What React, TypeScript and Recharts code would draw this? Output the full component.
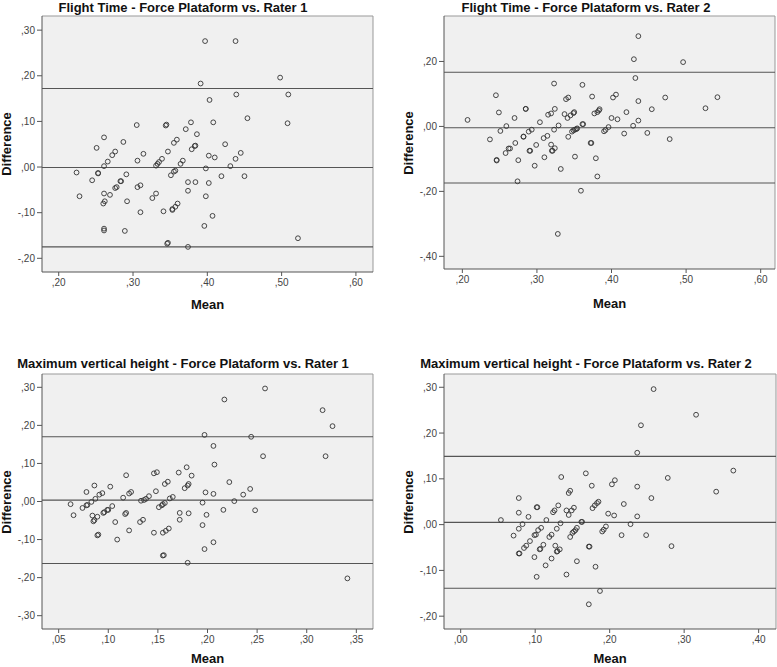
import {
  ScatterChart,
  Scatter,
  XAxis,
  YAxis,
  CartesianGrid,
  ReferenceLine,
} from "recharts";

// Flight time, force platform vs. rater 1
const FT1_MEAN = [
  0.224, 0.228, 0.245, 0.251, 0.253, 0.253, 0.261, 0.261, 0.261, 0.26,
  0.262, 0.261, 0.261, 0.266, 0.269, 0.272, 0.276, 0.276, 0.278, 0.283,
  0.284, 0.287, 0.291, 0.292, 0.289, 0.305, 0.306, 0.306, 0.31, 0.31,
  0.314, 0.326, 0.331, 0.331, 0.333, 0.335, 0.339, 0.341, 0.344, 0.345,
  0.347, 0.347, 0.346, 0.351, 0.353, 0.353, 0.355, 0.355, 0.357, 0.359,
  0.357, 0.36, 0.364, 0.367, 0.371, 0.374, 0.374, 0.374, 0.378, 0.379,
  0.383, 0.384, 0.384, 0.386, 0.391, 0.397, 0.396, 0.398, 0.398, 0.402,
  0.402, 0.403, 0.407, 0.408, 0.41, 0.419, 0.424, 0.431, 0.438, 0.438,
  0.439, 0.445, 0.45, 0.454, 0.498, 0.509, 0.508, 0.522,
];
const FT1_DIFF = [
  -0.012, -0.064, -0.029, 0.042, -0.013, -0.014, 0.065, 0.002, -0.058, -0.08,
  -0.075, -0.135, -0.139, 0.012, -0.061, 0.026, 0.034, -0.046, -0.044, -0.031,
  -0.031, 0.055, -0.016, -0.075, -0.14, 0.092, 0.014, -0.044, -0.04, -0.099,
  0.029, -0.068, -0.058, 0.003, 0.007, 0.011, 0.018, -0.097, 0.091, 0.093,
  0.034, -0.166, -0.168, -0.018, -0.094, -0.092, 0.053, -0.01, -0.008, 0.06,
  -0.087, -0.08, 0.007, 0.014, 0.083, -0.033, -0.052, -0.175, 0.098, 0.039,
  0.046, 0.047, -0.033, 0.072, 0.183, 0.276, -0.129, -0.003, -0.064, 0.025,
  -0.035, 0.147, -0.107, 0.098, 0.021, -0.02, 0.05, 0.002, 0.276, 0.018,
  0.159, 0.031, -0.02, 0.107, 0.196, 0.159, 0.096, -0.156,
];
const FT1_LIMITS = [0.172, -0.001, -0.175];

// Flight time, force platform vs. rater 2
const FT2_MEAN = [
  0.207, 0.237, 0.245, 0.246, 0.246, 0.249, 0.251, 0.258, 0.259, 0.262,
  0.264, 0.27, 0.271, 0.275, 0.274, 0.282, 0.282, 0.285, 0.285, 0.289,
  0.29, 0.291, 0.293, 0.297, 0.299, 0.304, 0.309, 0.31, 0.314, 0.315,
  0.319, 0.319, 0.32, 0.321, 0.324, 0.323, 0.324, 0.323, 0.329, 0.328,
  0.332, 0.337, 0.339, 0.342, 0.341, 0.342, 0.345, 0.347, 0.349, 0.35,
  0.349, 0.351, 0.353, 0.354, 0.351, 0.361, 0.359, 0.361, 0.362, 0.372,
  0.373, 0.374, 0.377, 0.379, 0.381, 0.383, 0.384, 0.381, 0.39, 0.392,
  0.396, 0.4, 0.402, 0.406, 0.408, 0.417, 0.42, 0.429, 0.43, 0.432,
  0.436, 0.436, 0.436, 0.448, 0.454, 0.472, 0.478, 0.496, 0.526, 0.542,
];
const FT2_DIFF = [
  0.02, -0.04, 0.096, -0.103, -0.105, 0.043, -0.014, -0.082, 0.001, -0.068,
  -0.068, 0.026, -0.051, -0.104, -0.169, -0.032, -0.031, 0.054, 0.054, -0.016,
  -0.075, -0.075, -0.01, -0.121, -0.057, 0.013, -0.036, -0.095, -0.029, 0.036,
  0.04, -0.056, -0.075, -0.075, -0.067, 0.132, 0.054, -0.01, 0.003, -0.331,
  -0.131, 0.038, 0.084, 0.089, 0.026, -0.032, 0.034, -0.016, 0.041, 0.044,
  -0.012, -0.01, -0.008, -0.006, -0.093, 0.128, -0.198, 0.007, 0.007, -0.051,
  -0.051, 0.092, 0.04, -0.098, 0.044, 0.049, 0.053, -0.154, -0.015, -0.011,
  -0.002, 0.026, 0.089, 0.098, 0.022, -0.022, 0.044, 0.002, 0.207, 0.149,
  0.278, 0.078, 0.018, -0.02, 0.053, 0.089, -0.039, 0.198, 0.056, 0.09,
];
const FT2_LIMITS = [0.167, -0.004, -0.174];

// Maximum vertical height, force platform vs. rater 1
const MVH1_MEAN = [
  0.062, 0.065, 0.074, 0.078, 0.078, 0.079, 0.083, 0.084, 0.085, 0.086,
  0.086, 0.087, 0.089, 0.089, 0.09, 0.091, 0.094, 0.095, 0.096, 0.099,
  0.1, 0.102, 0.104, 0.107, 0.109, 0.115, 0.117, 0.118, 0.118, 0.121,
  0.123, 0.121, 0.132, 0.133, 0.135, 0.136, 0.138, 0.141, 0.146, 0.146,
  0.149, 0.148, 0.151, 0.154, 0.155, 0.155, 0.155, 0.156, 0.157, 0.157,
  0.158, 0.16, 0.161, 0.162, 0.165, 0.171, 0.172, 0.172, 0.177, 0.179,
  0.18, 0.181, 0.181, 0.18, 0.184, 0.195, 0.195, 0.197, 0.197, 0.198,
  0.199, 0.206, 0.206, 0.206, 0.207, 0.216, 0.217, 0.222, 0.227, 0.236,
  0.243, 0.244, 0.248, 0.256, 0.258, 0.316, 0.319, 0.326, 0.341,
];
const MVH1_DIFF = [
  -0.007, -0.036, -0.017, 0.025, -0.01, -0.009, -0.001, -0.037, -0.052, 0.042,
  -0.049, 0.007, -0.04, -0.089, -0.087, 0.018, 0.022, -0.03, -0.028, -0.022,
  -0.022, 0.039, -0.012, -0.054, -0.1, 0.01, -0.033, -0.03, 0.069, 0.021,
  0.025, -0.076, -0.054, 0.002, -0.048, 0.004, 0.007, 0.014, -0.082, 0.074,
  0.077, 0.027, -0.015, -0.01, -0.007, -0.082, -0.142, -0.141, -0.004, 0.046,
  -0.077, 0.052, -0.071, 0.008, 0.012, 0.076, -0.03, -0.048, 0.035, 0.09,
  0.042, 0.046, -0.031, -0.161, 0.068, -0.003, -0.062, 0.175, -0.125, 0.024,
  -0.035, 0.146, 0.02, -0.107, 0.097, -0.022, 0.268, 0.051, 0.001, 0.018,
  0.033, 0.17, -0.023, 0.119, 0.297, 0.24, 0.119, 0.198, -0.202,
];
const MVH1_LIMITS = [0.17, 0.0035, -0.163];

// Maximum vertical height, force platform vs. rater 2
const MVH2_MEAN = [
  0.054, 0.071, 0.078, 0.078, 0.078, 0.078, 0.079, 0.083, 0.085, 0.088,
  0.091, 0.093, 0.099, 0.099, 0.101, 0.102, 0.103, 0.102, 0.104, 0.106,
  0.107, 0.108, 0.111, 0.114, 0.115, 0.119, 0.122, 0.122, 0.124, 0.126,
  0.127, 0.129, 0.13, 0.129, 0.131, 0.133, 0.135, 0.134, 0.142, 0.142,
  0.145, 0.147, 0.145, 0.147, 0.149, 0.15, 0.152, 0.152, 0.154, 0.156,
  0.156, 0.162, 0.163, 0.168, 0.172, 0.173, 0.172, 0.176, 0.177, 0.18,
  0.183, 0.185, 0.181, 0.187, 0.19, 0.192, 0.195, 0.198, 0.203, 0.207,
  0.206, 0.216, 0.219, 0.228, 0.237, 0.237, 0.237, 0.242, 0.249, 0.256,
  0.259, 0.278, 0.283, 0.316, 0.343, 0.366,
];
const MVH2_DIFF = [
  0.01, -0.024, 0.058, 0.026, -0.009, -0.063, -0.063, 0.001, -0.051, -0.046,
  0.017, -0.036, -0.071, -0.023, -0.022, 0.038, 0.038, -0.114, -0.012, -0.054,
  -0.053, -0.007, -0.044, -0.089, 0.01, -0.027, -0.074, -0.022, 0.027, 0.031,
  -0.046, -0.059, -0.058, -0.009, 0.042, -0.054, 0.104, 0.003, -0.109, 0.031,
  0.069, 0.074, 0.021, -0.027, 0.031, -0.018, 0.037, -0.015, -0.012, -0.007,
  -0.08, 0.006, 0.006, 0.112, -0.048, -0.048, -0.174, 0.085, 0.036, 0.042,
  0.047, 0.05, -0.092, -0.145, -0.015, -0.011, -0.004, 0.024, 0.088, 0.097,
  0.02, -0.023, 0.045, 0.001, 0.018, 0.157, 0.083, 0.217, -0.023, 0.058,
  0.296, 0.102, -0.047, 0.24, 0.072, 0.118,
];
const MVH2_LIMITS = [0.149, 0.005, -0.139];

const FT_X_TICKS = [0.2, 0.3, 0.4, 0.5, 0.6];
const FT1_Y_TICKS = [-0.2, -0.1, 0, 0.1, 0.2, 0.3];
const FT2_Y_TICKS = [-0.4, -0.2, 0, 0.2];
const MVH1_X_TICKS = [0.05, 0.1, 0.15, 0.2, 0.25, 0.3, 0.35];
const MVH1_Y_TICKS = [-0.3, -0.2, -0.1, 0, 0.1, 0.2, 0.3];
const MVH2_X_TICKS = [0, 0.1, 0.2, 0.3, 0.4];
const MVH2_Y_TICKS = [-0.2, -0.1, 0, 0.1, 0.2, 0.3];

const FONT = "'Liberation Sans', Arial, sans-serif";

// SPSS-style decimal comma with no leading zero: 0.3 -> ",30"
const fmt = (v: number) => {
  const s = Math.abs(v).toFixed(2).replace(/^0\./, ",");
  return v < -1e-9 ? "-" + s : s;
};

const Dot = (p: any) => (
  <circle cx={p.cx} cy={p.cy} r={2.4} fill="none" stroke="#333" strokeWidth={0.9} />
);

interface PanelProps {
  title: string;
  mean: number[];
  diff: number[];
  limits: number[];
  xDomain: [number, number];
  yDomain: [number, number];
  xTicks: number[];
  yTicks: number[];
  left: number;
  top: number;
  width: number;
  height: number;
  yAxisWidth: number;
  margin: { top: number; right: number; bottom: number; left: number };
  titleX: number;
  titleY: number;
  diffX: number;
  meanY: number;
}

function BlandAltman(p: PanelProps) {
  const data = p.mean.map((m, i) => ({ mean: m, diff: p.diff[i] }));
  const plotLeft = p.margin.left + p.yAxisWidth;
  const plotRight = p.width - p.margin.right;
  const plotTop = p.margin.top;
  const plotBottom = p.height - p.margin.bottom - 30;
  const axisText = { fontSize: 10, fill: "#444", fontFamily: FONT };
  const bold: React.CSSProperties = {
    position: "absolute",
    fontFamily: FONT,
    fontWeight: 700,
    fontSize: 13,
    color: "#111",
    whiteSpace: "nowrap",
    lineHeight: "11px",
    height: 11,
  };

  return (
    <div style={{ position: "absolute", left: p.left, top: p.top, width: p.width, height: p.height }}>
      <ScatterChart width={p.width} height={p.height} margin={p.margin}>
        <CartesianGrid horizontal={false} vertical={false} fill="#f0f0f0" />
        <XAxis
          type="number"
          dataKey="mean"
          domain={p.xDomain}
          ticks={p.xTicks}
          interval={0}
          allowDataOverflow
          height={30}
          tickSize={4}
          tickMargin={3}
          tickFormatter={fmt}
          tick={axisText}
          axisLine={{ stroke: "#555" }}
          tickLine={{ stroke: "#555" }}
        />
        <YAxis
          type="number"
          dataKey="diff"
          domain={p.yDomain}
          ticks={p.yTicks}
          interval={0}
          allowDataOverflow
          width={p.yAxisWidth}
          tickSize={5}
          tickMargin={2}
          tickFormatter={fmt}
          tick={axisText}
          axisLine={{ stroke: "#555" }}
          tickLine={{ stroke: "#555" }}
        />
        {/* top and right frame */}
        <ReferenceLine y={p.yDomain[1]} stroke="#999" />
        <ReferenceLine x={p.xDomain[1]} stroke="#999" />
        {p.limits.map((v, i) => (
          <ReferenceLine key={i} y={v} stroke="#555" strokeWidth={1.1} />
        ))}
        <Scatter data={data} shape={Dot} isAnimationActive={false} />
      </ScatterChart>
      <div style={{ ...bold, left: p.titleX, top: p.titleY - 5, transform: "translateX(-50%)" }}>
        {p.title}
      </div>
      <div
        style={{
          ...bold,
          left: p.diffX,
          top: (plotTop + plotBottom) / 2,
          transform: "translate(-50%, -50%) rotate(-90deg)",
        }}
      >
        Difference
      </div>
      <div
        style={{
          ...bold,
          left: (plotLeft + plotRight) / 2,
          top: p.meanY - 5,
          transform: "translateX(-50%)",
        }}
      >
        Mean
      </div>
    </div>
  );
}

export default function App() {
  return (
    <div style={{ position: "absolute", left: 0, top: 0, width: 777, height: 667, background: "#fff" }}>
      <BlandAltman
        title="Flight Time - Force Plataform vs. Rater 1"
        mean={FT1_MEAN}
        diff={FT1_DIFF}
        limits={FT1_LIMITS}
        xDomain={[0.1775, 0.623]}
        yDomain={[-0.23, 0.331]}
        xTicks={FT_X_TICKS}
        yTicks={FT1_Y_TICKS}
        left={0}
        top={0}
        width={390}
        height={330}
        yAxisWidth={42}
        margin={{ top: 16, right: 17, bottom: 28, left: 0 }}
        titleX={183}
        titleY={7}
        diffX={6}
        meanY={304}
      />
      <BlandAltman
        title="Flight Time - Force Plataform vs. Rater 2"
        mean={FT2_MEAN}
        diff={FT2_DIFF}
        limits={FT2_LIMITS}
        xDomain={[0.1754, 0.6192]}
        yDomain={[-0.439, 0.34]}
        xTicks={FT_X_TICKS}
        yTicks={FT2_Y_TICKS}
        left={390}
        top={0}
        width={387}
        height={330}
        yAxisWidth={54}
        margin={{ top: 16, right: 2, bottom: 31, left: 0 }}
        titleX={196}
        titleY={7}
        diffX={18}
        meanY={303}
      />
      <BlandAltman
        title="Maximum vertical height - Force Plataform vs. Rater 1"
        mean={MVH1_MEAN}
        diff={MVH1_DIFF}
        limits={MVH1_LIMITS}
        xDomain={[0.0332, 0.3668]}
        yDomain={[-0.335, 0.335]}
        xTicks={MVH1_X_TICKS}
        yTicks={MVH1_Y_TICKS}
        left={0}
        top={330}
        width={390}
        height={337}
        yAxisWidth={42}
        margin={{ top: 44, right: 17, bottom: 8, left: 0 }}
        titleX={183}
        titleY={33}
        diffX={6}
        meanY={328}
      />
      <BlandAltman
        title="Maximum vertical height - Force Plataform vs. Rater 2"
        mean={MVH2_MEAN}
        diff={MVH2_DIFF}
        limits={MVH2_LIMITS}
        xDomain={[-0.0224, 0.4233]}
        yDomain={[-0.228, 0.329]}
        xTicks={MVH2_X_TICKS}
        yTicks={MVH2_Y_TICKS}
        left={390}
        top={330}
        width={387}
        height={337}
        yAxisWidth={54}
        margin={{ top: 44, right: 1, bottom: 8, left: 0 }}
        titleX={196}
        titleY={33}
        diffX={18}
        meanY={328}
      />
    </div>
  );
}
